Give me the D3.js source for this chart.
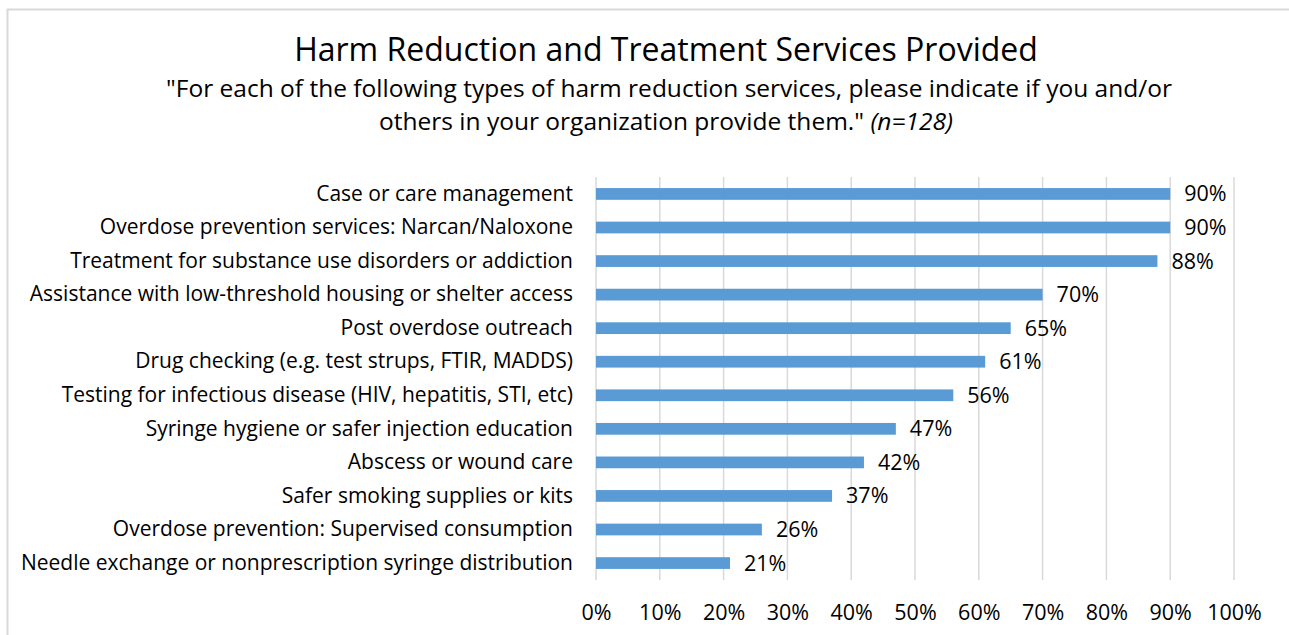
<!DOCTYPE html>
<html>
<head>
<meta charset="utf-8">
<script src="https://cdn.jsdelivr.net/npm/d3@7"></script>
<style>
  html, body { margin: 0; padding: 0; background: #fff; }
  svg { display: block; font-family: "Open Sans", Lato, sans-serif; }
</style>
</head>
<body>
<svg id="chart" width="1289" height="635"></svg>
<script>
// Services, listed top to bottom as plotted
const services = [
  "Case or care management",
  "Overdose prevention services: Narcan/Naloxone",
  "Treatment for substance use disorders or addiction",
  "Assistance with low-threshold housing or shelter access",
  "Post overdose outreach",
  "Drug checking (e.g. test strups, FTIR, MADDS)",
  "Testing for infectious disease (HIV, hepatitis, STI, etc)",
  "Syringe hygiene or safer injection education",
  "Abscess or wound care",
  "Safer smoking supplies or kits",
  "Overdose prevention: Supervised consumption",
  "Needle exchange or nonprescription syringe distribution"
];
// Share of respondents providing each service
const shares = [0.90, 0.90, 0.88, 0.70, 0.65, 0.61, 0.56, 0.47, 0.42, 0.37, 0.26, 0.21];
// Axis ticks
const tickValues = [0, 0.1, 0.2, 0.3, 0.4, 0.5, 0.6, 0.7, 0.8, 0.9, 1.0];

const titleText = "Harm Reduction and Treatment Services Provided";
const subtitleLine1 = "\"For each of the following types of harm reduction services, please indicate if you and/or";
const subtitleLine2 = "others in your organization provide them.\" ";
const sampleNote = "(n=128)";

const rows = services.map((s, i) => ({ service: s, share: shares[i] }));

const svg = d3.select("#chart");
const barColor = "#5b9bd5";
const gridColor = "#d9d9d9";
const textColor = "#000";
const pct = d3.format(".0%");

// Outer chart frame
svg.append("rect")
  .attr("x", 7.5).attr("y", 9.5)
  .attr("width", 1300).attr("height", 700)
  .attr("fill", "none")
  .attr("stroke", gridColor)
  .attr("stroke-width", 2);

const plotTop = 177, plotBottom = 580;
const x = d3.scaleLinear().domain([0, 1]).range([596, 1234]);
const y = d3.scaleBand().domain(services).range([plotTop, plotBottom]).paddingInner(0.65).paddingOuter(0.33);

// Vertical gridlines
svg.append("g")
  .selectAll("line")
  .data(tickValues)
  .join("line")
  .attr("x1", d => x(d)).attr("x2", d => x(d))
  .attr("y1", plotTop).attr("y2", plotBottom)
  .attr("stroke", gridColor)
  .attr("stroke-width", 1.5);

// X axis tick labels
const xAxis = d3.axisBottom(x)
  .tickValues(tickValues)
  .tickFormat(pct)
  .tickSize(0)
  .tickPadding(0);
const xg = svg.append("g").attr("transform", "translate(0,605)").call(xAxis);
xg.select(".domain").remove();
xg.selectAll("text")
  .attr("font-family", "\"Open Sans\", sans-serif")
  .attr("font-size", 21.5)
  .attr("fill", textColor);

// Category axis labels
const yAxis = d3.axisLeft(y).tickSize(0).tickPadding(23);
const yg = svg.append("g").attr("transform", `translate(${x(0)},0)`).call(yAxis);
yg.select(".domain").remove();
yg.selectAll("text")
  .attr("font-family", "\"Open Sans\", sans-serif")
  .attr("font-size", 21)
  .attr("fill", textColor);

// Bars
svg.append("g")
  .selectAll("rect")
  .data(rows)
  .join("rect")
  .attr("x", x(0))
  .attr("y", d => y(d.service))
  .attr("width", d => x(d.share) - x(0))
  .attr("height", y.bandwidth())
  .attr("fill", barColor);

// Value labels
svg.append("g")
  .selectAll("text")
  .data(rows)
  .join("text")
  .attr("x", d => x(d.share) + 14)
  .attr("y", d => y(d.service) + y.bandwidth() / 2)
  .attr("dy", "0.35em")
  .attr("font-size", 21.5)
  .attr("fill", textColor)
  .text(d => pct(d.share));

// Title and subtitle
svg.append("text")
  .attr("x", 666).attr("y", 61)
  .attr("text-anchor", "middle")
  .attr("font-size", 32)
  .attr("fill", textColor)
  .text(titleText);

svg.append("text")
  .attr("x", 669).attr("y", 96.5)
  .attr("text-anchor", "middle")
  .attr("font-size", 24.5)
  .attr("fill", textColor)
  .text(subtitleLine1);

const sub2 = svg.append("text")
  .attr("x", 666).attr("y", 130)
  .attr("text-anchor", "middle")
  .attr("font-size", 24.5)
  .attr("fill", textColor);
sub2.append("tspan").text(subtitleLine2);
sub2.append("tspan").attr("font-style", "italic").text(sampleNote);
</script>
</body>
</html>
